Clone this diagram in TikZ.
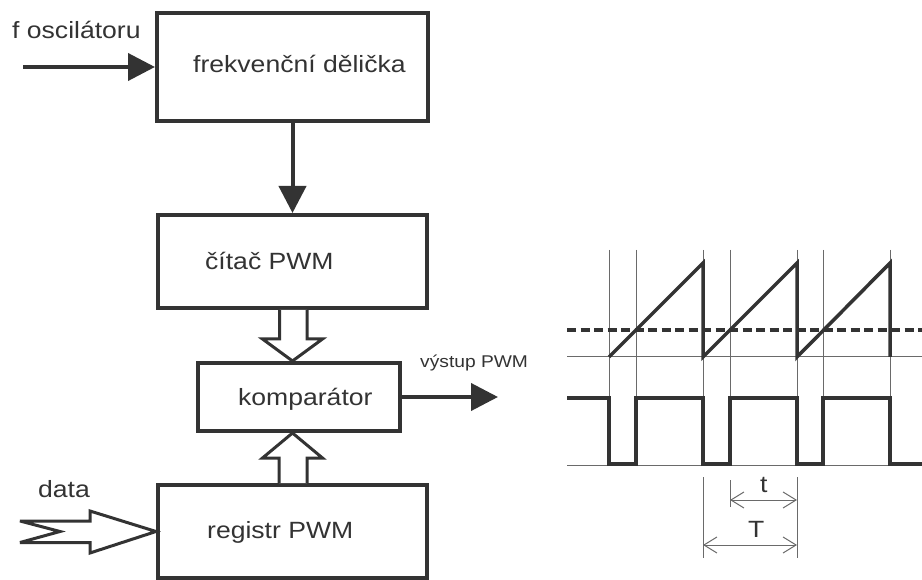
\documentclass[tikz,border=0pt]{standalone}
\usepackage{fontspec}
\setmainfont{Liberation Sans}[FakeStretch=1.13]
\usetikzlibrary{arrows.meta,calc}
\definecolor{ink}{HTML}{333333}
\definecolor{thin}{HTML}{6A6A6A}
\begin{document}
\begin{tikzpicture}[x=1pt,y=-1pt,
  blockbox/.style={draw=ink,line width=4pt,minimum width=269pt,minimum height=93pt,inner sep=0pt,fill=white},
  lbl/.style={anchor=base west,inner sep=0pt,text=ink,font=\fontsize{23.5}{28}\selectfont},
  smalllbl/.style={anchor=base west,inner sep=0pt,text=ink,font=\fontsize{17}{20}\selectfont},
  solidarrow/.style={draw=ink,line width=4pt,-{Triangle[length=27pt,width=27pt]}},
  hollow/.style={draw=ink,line width=3pt,line join=miter,fill=white},
  thinline/.style={draw=thin,line width=1pt},
  wave/.style={draw=ink,line width=4pt,line join=miter},
  dimarrow/.style={draw=thin,line width=1pt,{Straight Barb[length=13pt,width=16pt]}-{Straight Barb[length=13pt,width=16pt]}}
]
\useasboundingbox (0,0) rectangle (922,580);
\fill[white] (0,0) rectangle (922,580);

% blocks
\node[blockbox,minimum width=271pt,minimum height=108pt] (div) at (292.5,67) {};
\node[blockbox] (cit) at (292.5,261.5) {};
\node[blockbox,minimum width=202pt,minimum height=68pt] (komp) at (299,397) {};
\node[blockbox] (reg) at (292.5,531.5) {};

% texts
\node[lbl] (tfosc) at (12,39) {f oscilátoru};
\node[lbl] (tdiv) at (193,73) {frekvenční dělička};
\node[lbl] (tcit) at (205,270) {čítač PWM};
\node[lbl] (tkomp) at (238,405) {komparátor};
\node[smalllbl] (tvys) at (420,367) {výstup PWM};
\node[lbl] (tdata) at (38,497) {data};
\node[lbl] (treg) at (207,538) {registr PWM};

% connectors
\coordinate (fin) at (23,67);
\draw[solidarrow] (fin) -- (div.west);
\draw[solidarrow] (div.south) -- (cit.north);
\coordinate (out) at (498,397);
\draw[solidarrow] (komp.east) -- (out);

% hollow bus arrow down
\draw[hollow] ($(cit.south)+(-13,0)$) -- ($(cit.south)+(-13,29)$) -- ($(cit.south)+(-30,29)$)
  -- (cit.south |- komp.north) -- ($(cit.south)+(30,29)$) -- ($(cit.south)+(14.5,29)$) -- ($(cit.south)+(14.5,0)$);
% hollow bus arrow up
\draw[hollow] ($(reg.north)+(-13.5,0)$) -- ($(reg.north)+(-13.5,-25)$) -- ($(reg.north)+(-30,-25)$)
  -- (reg.north |- komp.south) -- ($(reg.north)+(30,-25)$) -- ($(reg.north)+(14.5,-25)$) -- ($(reg.north)+(14.5,0)$);
% data arrow
\draw[hollow,miter limit=4] ($(reg.west)+(-136,-10.5)$) -- ($(reg.west)+(-96,0)$) -- ($(reg.west)+(-136,11)$)
  -- ($(reg.west)+(-66,11)$) -- ($(reg.west)+(-66,21.5)$) -- (reg.west)
  -- ($(reg.west)+(-66,-20.5)$) -- ($(reg.west)+(-66,-10.5)$) -- cycle;

% timing diagram: thin grid
\foreach \xx in {609,636,703,730,797,823,890}
  \draw[thinline] (\xx,250) -- (\xx,465);
\draw[thinline] (567,357) -- (922,357);
\draw[thinline] (567,465) -- (922,465);

% sawtooth
\draw[wave,line width=3.5pt] (609,357) -- (703,263) -- (703,357) -- (797,263) -- (797,357) -- (890,263) -- (890,357);
% threshold
\draw[draw=ink,line width=4.5pt,dash pattern=on 9pt off 4.5pt] (567,330) -- (922,330);
% PWM output
\draw[wave] (567,398) -- (609,398) -- (609,464) -- (636,464) -- (636,398) -- (703,398) -- (703,464)
  -- (730,464) -- (730,398) -- (797,398) -- (797,464) -- (823,464) -- (823,398) -- (890,398)
  -- (890,464) -- (922,464);

% dimensions
\draw[thinline] (703,477) -- (703,558);
\draw[thinline] (797,477) -- (797,558);
\draw[thinline] (730,480) -- (730,507);
\draw[dimarrow] (730,500) -- (797,500);
\draw[dimarrow] (703,545) -- (797,545);
\node[lbl] (tt) at (760,492) {t};
\node[lbl] (tT) at (748,537) {T};
\end{tikzpicture}
\end{document}
